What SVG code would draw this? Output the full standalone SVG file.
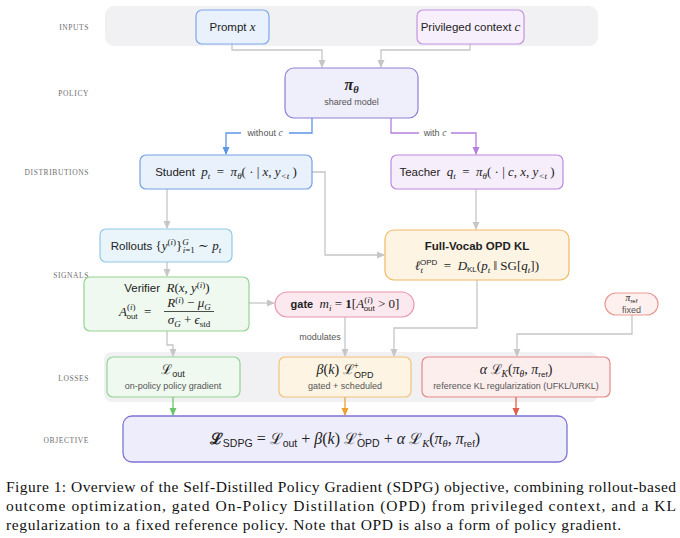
<svg xmlns="http://www.w3.org/2000/svg" width="680" height="538" viewBox="0 0 680 538">
<style>
.band{fill:#f1f1f4}
.row{font-family:"Liberation Serif",serif;font-size:7.5px;fill:#6e6e6e;letter-spacing:.6px;text-anchor:end}
.t{font-family:"Liberation Sans",sans-serif;font-size:11.5px;fill:#222;text-anchor:middle}
.s{font-family:"Liberation Sans",sans-serif;font-size:9px;fill:#555;text-anchor:middle}
.m{font-family:"Liberation Serif","DejaVu Serif",serif;font-style:italic;font-size:13px}
.r{font-family:"Liberation Serif","DejaVu Serif",serif;font-size:13px}
.sc{font-family:"DejaVu Serif",serif;font-size:12.5px}
.sub{font-size:9px}
.ss{font-family:"Liberation Sans",sans-serif;font-size:8px}
.M .m,.M .r{font-size:14px}
.M .sc{font-size:13.5px}
.M .sub{font-size:9.5px}
.L .m,.L .r{font-size:16px}
.L .sc{font-size:15.5px}
.L .sub{font-size:10.5px}
.b{font-weight:bold}
.c{fill:none;stroke-width:1.3}
.g{stroke:#c6c6c6}
.bl{stroke:#5b95e6}
.pu{stroke:#b57ee0}
.gr{stroke:#6cc46c}
.or{stroke:#f0a030}
.rd{stroke:#e0604c}
.cap{font-family:"Liberation Serif",serif;font-size:15.5px;fill:#111}
</style>
<defs>
<marker id="ag" viewBox="0 0 8 8" refX="7" refY="4" markerWidth="8" markerHeight="8" markerUnits="userSpaceOnUse" orient="auto"><path d="M0,0.5 L8,4 L0,7.5 Z" fill="#c6c6c6"/></marker>
<marker id="ab" viewBox="0 0 8 8" refX="7" refY="4" markerWidth="8" markerHeight="8" markerUnits="userSpaceOnUse" orient="auto"><path d="M0,0.5 L8,4 L0,7.5 Z" fill="#5b95e6"/></marker>
<marker id="ap" viewBox="0 0 8 8" refX="7" refY="4" markerWidth="8" markerHeight="8" markerUnits="userSpaceOnUse" orient="auto"><path d="M0,0.5 L8,4 L0,7.5 Z" fill="#b57ee0"/></marker>
<marker id="agr" viewBox="0 0 8 8" refX="7" refY="4" markerWidth="8" markerHeight="8" markerUnits="userSpaceOnUse" orient="auto"><path d="M0,0.5 L8,4 L0,7.5 Z" fill="#6cc46c"/></marker>
<marker id="ao" viewBox="0 0 8 8" refX="7" refY="4" markerWidth="8" markerHeight="8" markerUnits="userSpaceOnUse" orient="auto"><path d="M0,0.5 L8,4 L0,7.5 Z" fill="#f0a030"/></marker>
<marker id="ar" viewBox="0 0 8 8" refX="7" refY="4" markerWidth="8" markerHeight="8" markerUnits="userSpaceOnUse" orient="auto"><path d="M0,0.5 L8,4 L0,7.5 Z" fill="#e0604c"/></marker>
</defs>
<rect width="680" height="538" fill="#fff"/>
<rect class="band" x="105" y="6" width="493" height="40" rx="9"/>
<rect class="band" x="104" y="352" width="494" height="50" rx="8"/>
<g id="rowlabels">
<text class="row" x="89" y="30">INPUTS</text>
<text class="row" x="89" y="96">POLICY</text>
<text class="row" x="89" y="175">DISTRIBUTIONS</text>
<text class="row" x="89" y="278">SIGNALS</text>
<text class="row" x="89" y="381">LOSSES</text>
<text class="row" x="89" y="443">OBJECTIVE</text>
</g>
<g id="connectors">
<path class="c g" d="M232 44 V50 H322 V67" marker-end="url(#ag)"/>
<path class="c g" d="M470 44 V50 H381 V67" marker-end="url(#ag)"/>
<path class="c bl" d="M312 118 V133 H226 V154" marker-end="url(#ab)"/>
<path class="c pu" d="M391 118 V133 H476 V154" marker-end="url(#ap)"/>
<path class="c g" d="M167 189 V228" marker-end="url(#ag)"/>
<path class="c g" d="M312 172 H325 V255 H384" marker-end="url(#ag)"/>
<path class="c g" d="M476 189 V229" marker-end="url(#ag)"/>
<path class="c g" d="M167 262 V276" marker-end="url(#ag)"/>
<path class="c g" d="M249 303 H274" marker-end="url(#ag)"/>
<path class="c g" d="M167 331 V345 H173 V356" marker-end="url(#ag)"/>
<path class="c g" d="M345 317 V356" marker-end="url(#ag)"/>
<path class="c g" d="M477 280 V328 H394 V356" marker-end="url(#ag)"/>
<path class="c g" d="M632 315 V334 H517 V356" marker-end="url(#ag)"/>
<path class="c gr" d="M173 397 V415" marker-end="url(#agr)"/>
<path class="c or" d="M345 397 V415" marker-end="url(#ao)"/>
<path class="c rd" d="M516 397 V415" marker-end="url(#ar)"/>
<rect x="241" y="127" width="48" height="11" fill="#fff"/>
<text class="s" x="265" y="135.5" font-size="8.5">without <tspan class="m" style="font-size:9.5px">c</tspan></text>
<rect x="419" y="127" width="32" height="11" fill="#fff"/>
<text class="s" x="435" y="135.5" font-size="8.5">with <tspan class="m" style="font-size:9.5px">c</tspan></text>
<text class="s" x="320" y="340" font-size="8.5">modulates</text>
</g>
<g id="prompt">
<rect x="196" y="10" width="73" height="34" rx="6" fill="#e9f1fd" stroke="#7ea8e8" stroke-width="1.2"/>
<text class="t" x="232.5" y="31">Prompt <tspan class="m">x</tspan></text>
</g>
<g id="privileged">
<rect x="417" y="10" width="107" height="34" rx="6" fill="#f7effc" stroke="#c493e0" stroke-width="1.2"/>
<text class="t" x="470.5" y="31">Privileged context <tspan class="m">c</tspan></text>
</g>
<g id="policy">
<rect x="285" y="68" width="133" height="50" rx="9" fill="#efeefb" stroke="#8b80d6" stroke-width="1.2"/>
<text class="t" x="351.5" y="90"><tspan class="m b" style="font-size:16px">π</tspan><tspan class="m b" style="font-size:10.5px" dy="3">θ</tspan></text>
<text class="s" x="351.5" y="105">shared model</text>
</g>
<g id="student">
<rect x="140" y="155" width="172" height="34" rx="6" fill="#e8f1fc" stroke="#73a2e3" stroke-width="1.2"/>
<text class="t" x="226" y="176">Student&#160;&#160;<tspan class="m">p</tspan><tspan class="m sub" dy="3">t</tspan><tspan class="r" dy="-3">&#160;&#160;=&#160;&#160;</tspan><tspan class="m">π</tspan><tspan class="m sub" dy="3">θ</tspan><tspan class="r" dy="-3">( · | </tspan><tspan class="m">x</tspan><tspan class="r">, </tspan><tspan class="m">y</tspan><tspan class="m sub" dy="3">&lt;t</tspan><tspan class="r" dy="-3"> )</tspan></text>
</g>
<g id="teacher">
<rect x="391" y="155" width="172" height="34" rx="6" fill="#f6eefb" stroke="#bb8ae0" stroke-width="1.2"/>
<text class="t" x="477" y="176">Teacher&#160;&#160;<tspan class="m">q</tspan><tspan class="m sub" dy="3">t</tspan><tspan class="r" dy="-3">&#160;&#160;=&#160;&#160;</tspan><tspan class="m">π</tspan><tspan class="m sub" dy="3">θ</tspan><tspan class="r" dy="-3">( · | </tspan><tspan class="m">c</tspan><tspan class="r">, </tspan><tspan class="m">x</tspan><tspan class="r">, </tspan><tspan class="m">y</tspan><tspan class="m sub" dy="3">&lt;t</tspan><tspan class="r" dy="-3"> )</tspan></text>
</g>
<g id="rollouts">
<rect x="100" y="229" width="132" height="33" rx="6" fill="#e9f5fb" stroke="#93c8e8" stroke-width="1.2"/>
<text class="t" x="166" y="250">Rollouts <tspan class="r">{</tspan><tspan class="m">y</tspan><tspan class="r sub" dy="-5">(</tspan><tspan class="m sub">i</tspan><tspan class="r sub">)</tspan><tspan class="r" dy="5">}</tspan><tspan class="m sub" dy="-5">G</tspan><tspan class="r sub" dx="-6" dy="8"><tspan class="m sub">i</tspan>=1</tspan><tspan class="r" dy="-3"> ∼ </tspan><tspan class="m">p</tspan><tspan class="m sub" dy="3">t</tspan></text>
</g>
<g id="fullvocab">
<rect x="385" y="230" width="184" height="50" rx="9" fill="#fdf4e4" stroke="#f2b866" stroke-width="1.2"/>
<text class="t b" x="477" y="250" font-size="12">Full-Vocab OPD KL</text>
<text class="t" x="477" y="270"><tspan class="m">ℓ</tspan><tspan class="m sub" dy="3">t</tspan><tspan class="ss" dx="-3" dy="-8">OPD</tspan><tspan class="r" dy="5">&#160;&#160;=&#160;&#160;</tspan><tspan class="m">D</tspan><tspan class="ss" dy="2">KL</tspan><tspan class="r" dy="-2">(</tspan><tspan class="m">p</tspan><tspan class="m sub" dy="3">t</tspan><tspan class="r" dy="-3"> ‖ SG[</tspan><tspan class="m">q</tspan><tspan class="m sub" dy="3">t</tspan><tspan class="r" dy="-3">])</tspan></text>
</g>
<g id="verifier">
<rect x="84" y="277" width="165" height="54" rx="6" fill="#eff9ef" stroke="#94d394" stroke-width="1.2"/>
<text class="t" x="167" y="292">Verifier&#160;&#160;<tspan class="m">R</tspan><tspan class="r">(</tspan><tspan class="m">x</tspan><tspan class="r">, </tspan><tspan class="m">y</tspan><tspan class="r sub" dy="-4">(</tspan><tspan class="m sub">i</tspan><tspan class="r sub">)</tspan><tspan class="r" dy="4">)</tspan></text>
<text class="t" x="119" y="316" style="text-anchor:start"><tspan class="m">A</tspan><tspan class="r sub" dy="-6">(</tspan><tspan class="m sub">i</tspan><tspan class="r sub">)</tspan><tspan class="ss" dx="-9" dy="9">out</tspan><tspan class="r" dy="-3">&#160;&#160;=</tspan></text>
<text class="t" x="189" y="307"><tspan class="m">R</tspan><tspan class="r sub" dy="-4">(</tspan><tspan class="m sub">i</tspan><tspan class="r sub">)</tspan><tspan class="r" dy="4"> − </tspan><tspan class="m">μ</tspan><tspan class="m sub" dy="3">G</tspan></text>
<line x1="164" y1="311.5" x2="214" y2="311.5" stroke="#222" stroke-width="0.8"/>
<text class="t" x="189" y="324"><tspan class="m">σ</tspan><tspan class="m sub" dy="3">G</tspan><tspan class="r" dy="-3"> + </tspan><tspan class="m">ϵ</tspan><tspan class="r sub" dy="3">std</tspan></text>
</g>
<g id="gate">
<rect x="275" y="292" width="139" height="25" rx="12.5" fill="#fce9ef" stroke="#e994ac" stroke-width="1.2"/>
<text class="t" x="345" y="308"><tspan class="b" font-size="11">gate</tspan>&#160;&#160;<tspan class="m">m</tspan><tspan class="m sub" dy="3">i</tspan><tspan class="r" dy="-3">&#160;=&#160;</tspan><tspan class="r b">1</tspan><tspan class="r">[</tspan><tspan class="m">A</tspan><tspan class="r sub" dy="-5">(</tspan><tspan class="m sub">i</tspan><tspan class="r sub">)</tspan><tspan class="ss" dx="-9" dy="8">out</tspan><tspan class="r" dy="-3"> &gt; 0]</tspan></text>
</g>
<g id="piref">
<rect x="605" y="293" width="53" height="22" rx="11" fill="#fdf0ef" stroke="#ec9a94" stroke-width="1.2"/>
<text class="t" x="631.5" y="301"><tspan class="m" style="font-size:9.5px">π</tspan><tspan class="ss" style="font-size:6px" dy="1.5">ref</tspan></text>
<text class="s" x="631.5" y="312.5" font-size="8">fixed</text>
</g>
<g id="lout">
<rect x="107" y="357" width="133" height="40" rx="6" fill="#eff9ef" stroke="#94d394" stroke-width="1.2"/>
<text class="t M" x="173" y="374"><tspan class="sc">ℒ</tspan><tspan class="ss" style="font-size:9px" dy="3">out</tspan></text>
<text class="s" x="173" y="389">on-policy policy gradient</text>
</g>
<g id="lopd">
<rect x="279" y="357" width="132" height="40" rx="6" fill="#fdf4e4" stroke="#f2c27a" stroke-width="1.2"/>
<text class="t M" x="345" y="374"><tspan class="m">β</tspan><tspan class="r">(</tspan><tspan class="m">k</tspan><tspan class="r">) </tspan><tspan class="sc">ℒ</tspan><tspan class="r sub" dy="-5">+</tspan><tspan class="ss" style="font-size:9px" dx="-5" dy="9">OPD</tspan></text>
<text class="s" x="345" y="389">gated + scheduled</text>
</g>
<g id="lref">
<rect x="422" y="357" width="188" height="40" rx="6" fill="#fdeeee" stroke="#e58888" stroke-width="1.2"/>
<text class="t M" x="516" y="374"><tspan class="m">α </tspan><tspan class="sc">ℒ</tspan><tspan class="m sub" dy="3">K</tspan><tspan class="r" dy="-3">(</tspan><tspan class="m">π</tspan><tspan class="m sub" dy="3">θ</tspan><tspan class="r" dy="-3">, </tspan><tspan class="m">π</tspan><tspan class="ss" dy="3">ref</tspan><tspan class="r" dy="-3">)</tspan></text>
<text class="s" x="516" y="389">reference KL regularization (UFKL/URKL)</text>
</g>
<g id="objective">
<rect x="123" y="416" width="444" height="46" rx="9" fill="#eeedfb" stroke="#7e73d4" stroke-width="1.3"/>
<text class="t L" x="345" y="444"><tspan class="sc b">ℒ</tspan><tspan class="ss" style="font-size:10.5px" dy="3">SDPG</tspan><tspan class="r" dy="-3">&#160;=&#160;</tspan><tspan class="sc">ℒ</tspan><tspan class="ss" style="font-size:10.5px" dy="3">out</tspan><tspan class="r" dy="-3">&#160;+&#160;</tspan><tspan class="m">β</tspan><tspan class="r">(</tspan><tspan class="m">k</tspan><tspan class="r">) </tspan><tspan class="sc">ℒ</tspan><tspan class="r sub" dy="-6">+</tspan><tspan class="ss" style="font-size:10.5px" dx="-6" dy="9">OPD</tspan><tspan class="r" dy="-3">&#160;+&#160;</tspan><tspan class="m">α </tspan><tspan class="sc">ℒ</tspan><tspan class="m sub" dy="3">K</tspan><tspan class="r" dy="-3">(</tspan><tspan class="m">π</tspan><tspan class="m sub" dy="3">θ</tspan><tspan class="r" dy="-3">, </tspan><tspan class="m">π</tspan><tspan class="ss" style="font-size:9.5px" dy="3">ref</tspan><tspan class="r" dy="-3">)</tspan></text>
</g>
<g id="caption">
<text class="cap" x="6" y="492" textLength="670">Figure 1: Overview of the Self-Distilled Policy Gradient (SDPG) objective, combining rollout-based</text>
<text class="cap" x="6" y="511" textLength="670">outcome optimization, gated On-Policy Distillation (OPD) from privileged context, and a KL</text>
<text class="cap" x="6" y="530" textLength="615">regularization to a fixed reference policy. Note that OPD is also a form of policy gradient.</text>
</g>
</svg>
